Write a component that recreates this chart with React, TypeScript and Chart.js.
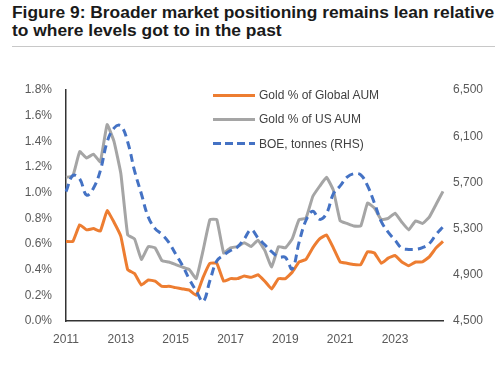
import React, { useEffect, useRef } from 'react';
import { Chart, registerables } from 'chart.js';

Chart.register(...registerables);

// Quarterly categories 2011Q1 .. 2024Q4
const categories: string[] = Array.from({ length: 56 }, (_, i) => `${2011 + Math.floor(i / 4)} Q${(i % 4) + 1}`);
const yearTickLabels = ['2011', '2013', '2015', '2017', '2019', '2021', '2023'];

const goldGlobalAum = [
  0.62, 0.62, 0.75, 0.71, 0.72, 0.70, 0.86, 0.77, 0.66, 0.40,
  0.37, 0.28, 0.32, 0.31, 0.27, 0.27, 0.26, 0.25, 0.24, 0.20,
  0.34, 0.45, 0.45, 0.31, 0.33, 0.33, 0.35, 0.34, 0.36, 0.31,
  0.25, 0.33, 0.33, 0.38, 0.46, 0.48, 0.57, 0.64, 0.67, 0.57,
  0.46, 0.45, 0.44, 0.44, 0.54, 0.53, 0.45, 0.49, 0.51, 0.46,
  0.43, 0.46, 0.46, 0.50, 0.57, 0.62,
];

const goldUsAum = [
  1.12, 1.13, 1.32, 1.27, 1.30, 1.24, 1.53, 1.40, 1.15, 0.67,
  0.64, 0.48, 0.58, 0.57, 0.47, 0.46, 0.44, 0.42, 0.40, 0.33,
  0.55, 0.79, 0.79, 0.53, 0.57, 0.58, 0.61, 0.58, 0.63, 0.55,
  0.42, 0.58, 0.57, 0.64, 0.79, 0.80, 0.97, 1.05, 1.12, 1.02,
  0.78, 0.76, 0.74, 0.74, 0.92, 0.88, 0.79, 0.80, 0.84, 0.77,
  0.71, 0.78, 0.76, 0.81, 0.91, 1.01,
];

const boeTonnes = [
  5620, 5760, 5730, 5590, 5650, 5800, 6050, 6170, 6190, 6050,
  5800, 5600, 5400, 5300, 5250, 5180, 5080, 4980, 4860, 4760,
  4670, 4850, 5020, 5070, 5110, 5140, 5210, 5290, 5220, 5160,
  5100, 5055, 5050, 4950, 5180, 5370, 5450, 5380, 5430, 5600,
  5670, 5745, 5775, 5765, 5670, 5520, 5360, 5270, 5200, 5130,
  5120, 5120, 5135, 5170, 5250, 5315,
];

const seriesNames = ['Gold % of Global AUM', 'Gold % of US AUM', 'BOE, tonnes (RHS)'];
const seriesColors = ['#ED7D31', '#A5A5A5', '#4472C4'];

const tickFont = { family: '"Liberation Sans", Arial, sans-serif', size: 12 };
const tickColor = '#595959';

export default function App() {
  const canvasRef = useRef<HTMLCanvasElement | null>(null);

  useEffect(() => {
    if (!canvasRef.current) return;
    const chart = new Chart(canvasRef.current, {
      type: 'line',
      data: {
        labels: categories,
        datasets: [
          {
            label: seriesNames[2],
            data: boeTonnes,
            yAxisID: 'y2',
            borderColor: seriesColors[2],
            borderWidth: 3,
            borderDash: [8, 5],
            pointRadius: 0,
            tension: 0.4,
            fill: false,
            order: 0,
          },
          {
            label: seriesNames[1],
            data: goldUsAum,
            yAxisID: 'y',
            borderColor: seriesColors[1],
            borderWidth: 3,
            pointRadius: 0,
            tension: 0.1,
            borderJoinStyle: 'round',
            fill: false,
            order: 1,
          },
          {
            label: seriesNames[0],
            data: goldGlobalAum,
            yAxisID: 'y',
            borderColor: seriesColors[0],
            borderWidth: 3,
            pointRadius: 0,
            tension: 0.1,
            borderJoinStyle: 'round',
            fill: false,
            order: 2,
          },
        ],
      },
      options: {
        animation: false,
        responsive: false,
        maintainAspectRatio: false,
        layout: { padding: { top: 90, left: 0, right: 0, bottom: 0 } },
        plugins: { legend: { display: false }, tooltip: { enabled: false }, title: { display: false } },
        scales: {
          x: {
            type: 'category',
            grid: { display: false, drawTicks: false },
            border: { display: true, color: '#333333', width: 1.5 },
            ticks: {
              autoSkip: false,
              maxRotation: 0,
              minRotation: 0,
              padding: 11,
              color: tickColor,
              font: tickFont,
              callback: (_v: any, index: number) => {
                const lab = categories[index];
                const year = lab.slice(0, 4);
                return lab.endsWith('Q1') && yearTickLabels.includes(year) ? year : '';
              },
            },
            afterFit: (scale: any) => { scale.height = 51; },
          },
          y: {
            position: 'left',
            min: 0,
            max: 1.8,
            grid: { display: false, drawTicks: false },
            border: { display: true, color: '#333333', width: 1.5 },
            ticks: {
              stepSize: 0.2,
              padding: 14,
              color: tickColor,
              font: tickFont,
              callback: (v: any) => Number(v).toFixed(1) + '%',
            },
            afterFit: (scale: any) => { scale.width = 66; },
          },
          y2: {
            position: 'right',
            min: 4500,
            max: 6500,
            grid: { display: false, drawTicks: false },
            border: { display: false },
            ticks: {
              stepSize: 400,
              padding: 10,
              color: tickColor,
              font: tickFont,
              callback: (v: any) => Number(v).toLocaleString('en-US'),
            },
            afterFit: (scale: any) => { scale.width = 60; },
          },
        },
      },
    });
    return () => chart.destroy();
  }, []);

  const legendText: React.CSSProperties = {
    position: 'absolute',
    left: 259,
    fontFamily: '"Liberation Sans", Arial, sans-serif',
    fontSize: 12,
    color: '#404040',
    lineHeight: '14px',
    whiteSpace: 'nowrap',
  };

  return (
    <div style={{ position: 'absolute', left: 0, top: 0, width: 503, height: 372, background: '#ffffff', overflow: 'hidden' }}>
      <div
        style={{
          position: 'absolute',
          left: 12,
          top: 4,
          fontFamily: '"Liberation Sans", Arial, sans-serif',
          fontWeight: 'bold',
          fontSize: 17.4,
          lineHeight: '17.5px',
          color: '#1a1a1a',
          whiteSpace: 'nowrap',
        }}
      >
        Figure 9: Broader market positioning remains lean relative
        <br />
        to where levels got to in the past
      </div>
      <div style={{ position: 'absolute', left: 12, top: 46, width: 483, height: 1, background: '#c8c8c8' }} />
      <canvas ref={canvasRef} width={503} height={372} style={{ position: 'absolute', left: 0, top: 0, width: 503, height: 372 }} />
      <div style={{ position: 'absolute', left: 213, top: 94, width: 42, height: 3, background: seriesColors[0] }} />
      <div style={{ ...legendText, top: 88 }}>{seriesNames[0]}</div>
      <div style={{ position: 'absolute', left: 213, top: 118, width: 42, height: 3, background: seriesColors[1] }} />
      <div style={{ ...legendText, top: 112 }}>{seriesNames[1]}</div>
      <div
        style={{
          position: 'absolute',
          left: 213,
          top: 142,
          width: 42,
          height: 3,
          background: `repeating-linear-gradient(to right, ${seriesColors[2]} 0px, ${seriesColors[2]} 8px, transparent 8px, transparent 12px)`,
        }}
      />
      <div style={{ ...legendText, top: 137 }}>{seriesNames[2]}</div>
    </div>
  );
}
